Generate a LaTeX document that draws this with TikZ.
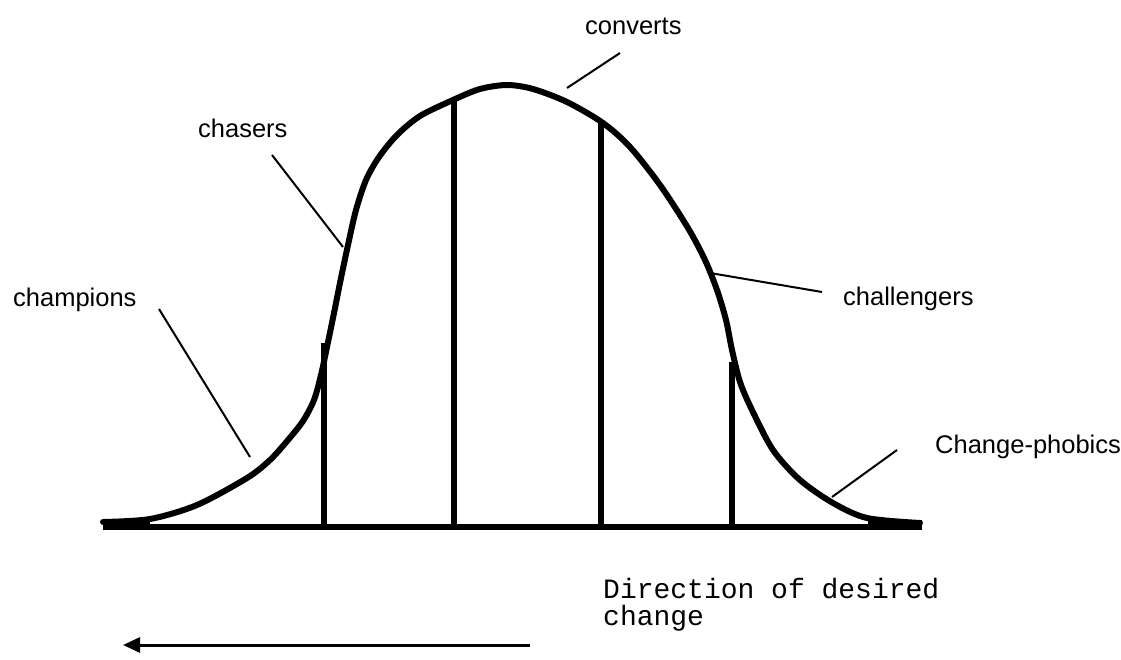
\documentclass[tikz,border=0pt]{standalone}
\usepackage{fontspec}
\usetikzlibrary{arrows.meta}
\newfontfamily\labfont{Liberation Sans}
\newfontfamily\monofont{Liberation Mono}
\tikzset{
  lbl/.style={inner sep=0pt, anchor=base west, font=\labfont\fontsize{25.5}{30}\selectfont},
  monolbl/.style={inner sep=0pt, anchor=base west, align=left, font=\monofont\fontsize{28}{27}\selectfont},
  curveline/.style={line width=6pt, line join=round, line cap=round},
  divider/.style={line width=6pt},
  leader/.style={line width=2pt},
}
\begin{document}
\begin{tikzpicture}[x=1pt,y=-1pt]
\useasboundingbox (0,0) rectangle (1121,660);
% baseline
\draw[divider] (103,527) -- (920,527);
\fill (103,520) rectangle (150,530);
\fill (868,520) rectangle (922,530);
% bell curve
\draw[curveline] plot[smooth, tension=0.5] coordinates {
 (103,522) (150,519) (197,505) (247,478) (270,460) (288,440) (303,421)
 (314,400) (321,375) (327,347) (334,313) (341,278) (348,245) (356,210)
 (366,180) (379,157) (397,135) (420,116) (453,100)
 (480,89) (507,85) (533,89) (567,102) (603,123) (630,147) (660,185)
 (688,228) (705,260) (717,290) (726,320) (732,350) (740,382) (752,410)
 (773,450) (800,480) (833,503) (867,518) (920,523)};
% dividers
\draw[divider] (324,343) -- (324,528);
\draw[divider] (454,100) -- (454,528);
\draw[divider] (601,123) -- (601,528);
\draw[divider] (732,362) -- (732,528);
% labels
\node[lbl] (converts) at (585,35) {converts};
\node[lbl] (chasers) at (198,138) {chasers};
\node[lbl] (champions) at (13,306) {champions};
\node[lbl] (challengers) at (843,305) {challengers};
\node[lbl] (phobics) at (935,453) {Change-phobics};
\node[monolbl] (direction) at (603,625) {Direction of desired\\change};
% leader ends
\coordinate (cvA) at (620,53);  \coordinate (cvB) at (567,88);
\coordinate (chA) at (272,155); \coordinate (chB) at (343,247);
\coordinate (cpA) at (159,309); \coordinate (cpB) at (250,457);
\coordinate (clA) at (822,292); \coordinate (clB) at (710,273);
\coordinate (phA) at (897,450); \coordinate (phB) at (832,497);
\draw[leader] (cvA) -- (cvB);
\draw[leader] (chA) -- (chB);
\draw[leader] (cpA) -- (cpB);
\draw[leader] (clA) -- (clB);
\draw[leader] (phA) -- (phB);
% direction arrow
\coordinate (arrS) at (530,645);
\coordinate (arrE) at (123,645);
\draw[line width=3pt, -{Triangle[length=17pt,width=15pt]}] (arrS) -- (arrE);
\end{tikzpicture}
\end{document}
